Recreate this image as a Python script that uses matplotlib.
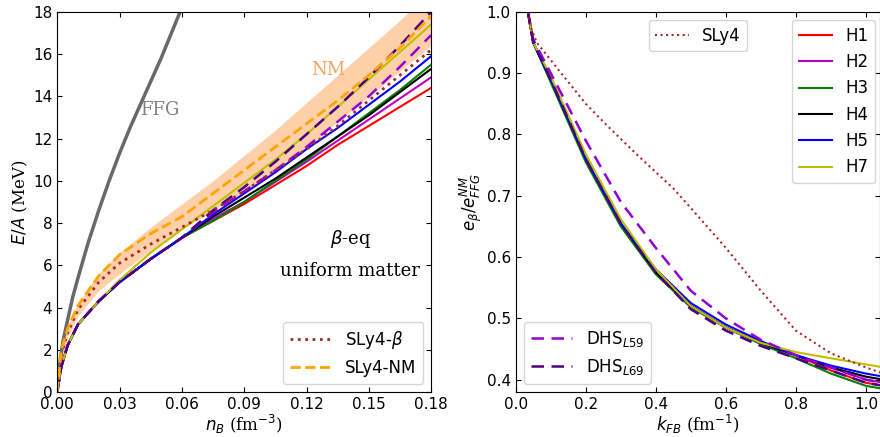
import numpy as np
import matplotlib.pyplot as plt

# left panel: E/A vs n_B
n_B = [0, 0.002, 0.005, 0.01, 0.02, 0.03, 0.045, 0.06, 0.075, 0.09, 0.105, 0.12, 0.135, 0.15, 0.165, 0.18]
n_ffg = [0, 0.001, 0.002, 0.003, 0.005, 0.0075, 0.01, 0.015, 0.02, 0.025, 0.03, 0.035, 0.04, 0.045, 0.05, 0.055, 0.06]
E_ffg = [0, 1.2, 1.9, 2.5, 3.4, 4.5, 5.4, 7.1, 8.6, 10.0, 11.3, 12.5, 13.6, 14.7, 15.8, 17.0, 18.2]
nm_lo = [0, 1.5, 2.6, 3.6, 4.8, 5.6, 6.7, 7.7, 8.6, 9.5, 10.5, 11.6, 12.8, 14.0, 15.2, 16.4]
nm_hi = [0, 2.0, 3.1, 4.2, 5.6, 6.6, 7.8, 8.9, 10.0, 11.2, 12.4, 13.7, 15.0, 16.3, 17.6, 19.0]
sly4_nm = [0, 2.0, 3.0, 4.1, 5.5, 6.5, 7.5, 8.3, 9.4, 10.5, 11.6, 12.7, 13.8, 15.0, 16.3, 17.8]
sly4_b = [0, 1.8, 2.8, 3.9, 5.2, 6.1, 7.0, 7.8, 8.6, 9.5, 10.5, 11.5, 12.6, 13.8, 15.0, 16.2]
low = [0, 1.2, 2.2, 3.2, 4.3, 5.2, 6.3, 7.3]
E_H = {
    'H1': low + [8.1, 8.9, 9.8, 10.7, 11.7, 12.6, 13.5, 14.4],
    'H2': low + [8.2, 9.0, 9.95, 10.9, 11.9, 12.9, 13.9, 14.9],
    'H3': low + [8.1, 9.0, 10.0, 11.0, 12.1, 13.2, 14.3, 15.5],
    'H4': low + [8.3, 9.2, 10.1, 11.1, 12.1, 13.1, 14.2, 15.3],
    'H5': low + [8.4, 9.4, 10.4, 11.5, 12.5, 13.6, 14.7, 15.9],
    'H7': [0, 1.2, 2.2, 3.2, 4.3, 5.3, 6.6, 7.7, 8.8, 9.9, 11.0, 12.2, 13.5, 14.8, 16.1, 17.4],
}
E_dhs59 = low + [8.5, 9.5, 10.5, 11.6, 12.8, 14.0, 15.4, 16.9]
E_dhs69 = low + [8.6, 9.7, 10.9, 12.2, 13.5, 14.9, 16.4, 18.0]

# right panel: e_beta / e_FFG^NM vs k_FB
k_sly4 = [0.035, 0.04, 0.06, 0.12, 0.2, 0.26, 0.35, 0.45, 0.5, 0.6, 0.7, 0.8, 0.9, 1.0, 1.05]
r_sly4 = [1.0, 0.98, 0.95, 0.907, 0.85, 0.815, 0.765, 0.712, 0.68, 0.615, 0.545, 0.48, 0.443, 0.42, 0.41]
k_FB = [0.035, 0.05, 0.1, 0.2, 0.3, 0.4, 0.5, 0.6, 0.7, 0.8, 0.9, 1.0, 1.05]
r_base = [1.0, 0.95, 0.89, 0.76, 0.655, 0.575, 0.52, 0.485, 0.46]
r_H = {
    'H1': r_base + [0.44, 0.415, 0.395, 0.39],
    'H2': r_base + [0.44, 0.42, 0.40, 0.395],
    'H3': [1.0, 0.95, 0.885, 0.755, 0.65, 0.572, 0.518, 0.485, 0.458, 0.435, 0.41, 0.39, 0.385],
    'H4': r_base + [0.44, 0.42, 0.405, 0.40],
    'H5': [1.0, 0.95, 0.89, 0.76, 0.655, 0.58, 0.525, 0.49, 0.463, 0.44, 0.423, 0.41, 0.405],
    'H7': [1.0, 0.95, 0.895, 0.768, 0.662, 0.58, 0.52, 0.485, 0.46, 0.445, 0.435, 0.425, 0.42],
}
r_dhs59 = [1.0, 0.955, 0.90, 0.79, 0.69, 0.615, 0.545, 0.50, 0.465, 0.44, 0.42, 0.40, 0.395]
r_dhs69 = [1.0, 0.95, 0.89, 0.76, 0.655, 0.575, 0.515, 0.48, 0.455, 0.435, 0.415, 0.395, 0.39]

colors = {'H1': 'red', 'H2': 'm', 'H3': 'green', 'H4': 'black', 'H5': 'blue', 'H7': 'y'}
c59 = '#9400d3'
c69 = '#4b0082'

fig = plt.figure(figsize=(8.8, 4.37), dpi=100)
ax1 = fig.add_axes([0.065, 0.103, 0.425, 0.870])
ax2 = fig.add_axes([0.586, 0.103, 0.414, 0.870])

ax1.fill_between(n_B, nm_lo, nm_hi, color='#fdd0aa', lw=0)
ax1.plot(n_ffg, E_ffg, color='dimgray', lw=2.5)
for name, vals in E_H.items():
    ax1.plot(n_B, vals, color=colors[name], lw=1.5)
ax1.plot(n_B, E_dhs59, color=c59, ls=(0, (5, 3)), lw=1.8)
ax1.plot(n_B, E_dhs69, color=c69, ls=(0, (5, 3)), lw=1.8)
ax1.plot(n_B, sly4_b, color='brown', ls=':', lw=2, label=r'SLy4-$\beta$')
ax1.plot(n_B, sly4_nm, color='orange', ls='--', lw=2, label='SLy4-NM')
ax1.set_xlim(0, 0.18)
ax1.set_ylim(0, 18)
ax1.set_xticks(np.arange(0, 0.181, 0.03))
ax1.set_xticklabels(['0.00', '0.03', '0.06', '0.09', '0.12', '0.15', '0.18'])
ax1.set_yticks(range(0, 19, 2))
ax1.set_xlabel(r'$n_B$ (fm$^{-3}$)', fontsize=12, family='serif', labelpad=1)
ax1.set_ylabel(r'$E/A$ (MeV)', fontsize=12, family='serif', labelpad=2)
ax1.text(0.04, 13.1, 'FFG', color='gray', fontsize=13, family='serif')
ax1.text(0.122, 15.0, 'NM', color='#f4a460', fontsize=13, family='serif')
ax1.text(0.141, 7.0, r'$\beta$-eq', fontsize=13, family='serif', ha='center')
ax1.text(0.141, 5.5, 'uniform matter', fontsize=13, family='serif', ha='center')
ax1.legend(loc='lower right', fontsize=12, handlelength=2.5)

for name, vals in r_H.items():
    ax2.plot(k_FB, vals, color=colors[name], lw=1.5, label=name)
l59, = ax2.plot(k_FB, r_dhs59, color=c59, ls=(0, (5, 3)), lw=1.8, label=r'DHS$_{L59}$')
l69, = ax2.plot(k_FB, r_dhs69, color=c69, ls=(0, (5, 3)), lw=1.8, label=r'DHS$_{L69}$')
ls4, = ax2.plot(k_sly4, r_sly4, color='brown', ls=':', lw=1.5, label='SLy4')
ax2.set_xlim(0, 1.04)
ax2.set_ylim(0.38, 1.0)
ax2.set_xticks(np.arange(0, 1.01, 0.2))
ax2.set_xlabel(r'$k_{FB}$ (fm$^{-1}$)', fontsize=12, family='serif', labelpad=1)
ax2.set_ylabel(r'$e_\beta/e^{NM}_{FFG}$', fontsize=12, labelpad=2)
hl = [l for l in ax2.get_lines() if l.get_label() in r_H]
leg1 = ax2.legend(handles=hl, loc='upper right', fontsize=12, bbox_to_anchor=(1.01, 1.0))
ax2.add_artist(leg1)
leg2 = ax2.legend(handles=[ls4], loc='upper center', fontsize=12, bbox_to_anchor=(0.5, 1.0))
ax2.add_artist(leg2)
ax2.legend(handles=[l59, l69], loc='lower left', fontsize=12, handlelength=2.5)

for ax in (ax1, ax2):
    ax.tick_params(direction='in', top=True, right=True, labelsize=11)

fig.savefig('out.png')
